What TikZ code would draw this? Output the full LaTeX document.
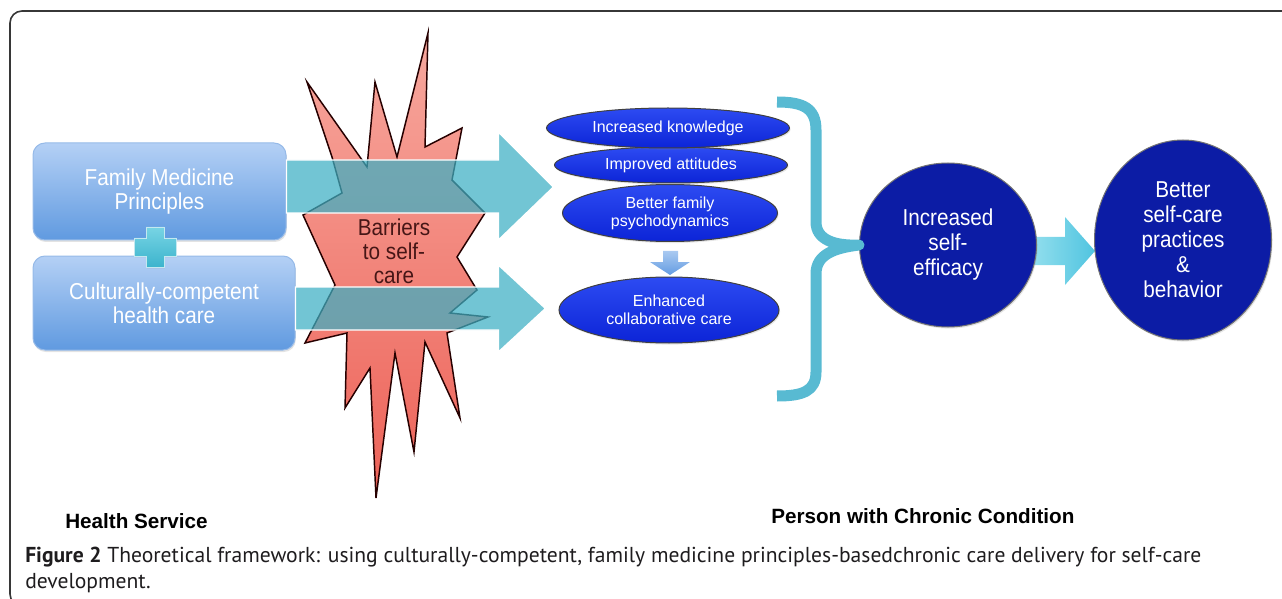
\documentclass[tikz,border=0pt]{standalone}
\usepackage{fontspec}
\usetikzlibrary{shapes.geometric,shadows,calc,backgrounds}
\newfontfamily\dsans[FakeStretch=0.9]{Liberation Sans}
\newfontfamily\esans{Liberation Sans}
\newfontfamily\capfont{PT Sans}
\definecolor{boxtop}{RGB}{180,208,245}
\definecolor{boxbot}{RGB}{96,154,224}
\definecolor{boxedge}{RGB}{150,186,232}
\definecolor{arrteal}{RGB}{60,175,195}
\definecolor{plustop}{RGB}{120,212,228}
\definecolor{plusbot}{RGB}{60,180,205}
\definecolor{startop}{RGB}{247,168,158}
\definecolor{starbot}{RGB}{237,98,88}
\definecolor{barrtext}{RGB}{70,22,22}
\definecolor{elltop}{RGB}{45,75,242}
\definecolor{ellbot}{RGB}{12,36,215}
\definecolor{navyc}{RGB}{12,28,165}
\definecolor{bracec}{RGB}{88,186,210}
\definecolor{smalltop}{RGB}{195,218,246}
\definecolor{smallbot}{RGB}{100,156,226}
\definecolor{rtop}{RGB}{150,224,238}
\definecolor{rbot}{RGB}{80,196,224}
\definecolor{framec}{RGB}{55,55,55}
\definecolor{captext}{RGB}{30,28,30}
\begin{document}
\begin{tikzpicture}[x=0.75pt,y=-0.75pt,
  hbox/.style={rounded corners=9pt, top color=boxtop, bottom color=boxbot,
    draw=boxedge, line width=0.75pt, text=white, align=center, inner sep=0pt,
    font=\dsans\fontsize{17.25}{18}\selectfont,
    drop shadow={opacity=0.22, shadow xshift=0.6pt, shadow yshift=-1.5pt}},
  ell/.style={ellipse, inner sep=0pt, draw=black!75, line width=0.75pt,
    top color=elltop, bottom color=ellbot, text=white, align=center,
    font=\esans\fontsize{12}{13.5}\selectfont,
    drop shadow={opacity=0.2, shadow xshift=0.8pt, shadow yshift=-1.2pt}},
  circ/.style={ellipse, inner sep=0pt, fill=navyc, draw=black!55, line width=0.75pt,
    text=white, align=center, font=\dsans\fontsize{17.25}{18.75}\selectfont,
    drop shadow={opacity=0.2, shadow xshift=0.8pt, shadow yshift=-1.2pt}},
  bigarrow/.style={fill=arrteal, fill opacity=0.72, draw=white, line width=1.1pt},
  starshape/.style={top color=startop, bottom color=starbot, draw=black!85!red, line width=1.1pt, line join=miter},
  brace/.style={draw=bracec, line width=8.25pt, line join=round},
  bottomlabel/.style={anchor=base west, inner sep=0pt, text=black,
    font=\esans\bfseries\fontsize{15.5}{18}\selectfont},
  caption/.style={anchor=base west, inner sep=0pt, text=captext,
    font=\capfont\fontsize{16.2}{18}\selectfont}
]
\useasboundingbox (0,0) rectangle (1282,599);
\clip (0,0) rectangle (1282,599);

% frame
\draw[framec, line width=1.2pt, rounded corners=9pt] (1300,11) -- (10,11) -- (10,606) -- (60,606);

% left boxes
\node[hbox, minimum width=189.75pt, minimum height=72.75pt] (box1) at (159.5,191.5)
  {Family Medicine\\Principles};
\node[hbox, minimum width=196.5pt, minimum height=70.5pt] (box2) at (164,303)
  {Culturally-competent\\health care};

% plus sign
\coordinate (plusc) at (155,247);
\path[top color=plustop, bottom color=plusbot, draw=white!70!plusbot, line width=0.6pt,
  drop shadow={opacity=0.2, shadow xshift=0.6pt, shadow yshift=-1pt}]
  (plusc) ++(-9,-20) -- ++(18,0) -- ++(0,11) -- ++(12,0) -- ++(0,18) -- ++(-12,0)
  -- ++(0,11) -- ++(-18,0) -- ++(0,-11) -- ++(-12,0) -- ++(0,-18) -- ++(12,0) -- cycle;

% explosion star
\path[starshape]
  (307,82) -- (367,167) -- (375,82) -- (397,157) -- (428,33) -- (425,147) -- (462,128)
  -- (452,180) -- (485,213) -- (457,257) -- (477,290) -- (450,313) -- (488,317)
  -- (447,333) -- (460,418) -- (425,342) -- (414,452) -- (395,353) -- (376,498)
  -- (370,368) -- (345,408) -- (347,333) -- (305,343) -- (335,285) -- (303,215)
  -- (342,193) -- (332,157) -- cycle;
\node[font=\dsans\fontsize{17.25}{18}\selectfont, text=barrtext, align=center, inner sep=0pt]
  (barr) at (394,251) {Barriers\\to self-\\care};

% ellipses (lower ones first)
\node[ell, minimum width=165pt, minimum height=49.5pt] (E4) at (669,310)
  {Enhanced\\collaborative care};
\node[ell, minimum width=161.25pt, minimum height=42.75pt] (E3) at (670,213)
  {Better family\\psychodynamics};
\node[ell, minimum width=174.75pt, minimum height=27pt] (E2) at (671,165)
  {Improved attitudes};
\node[ell, minimum width=182.25pt, minimum height=30pt] (E1) at (668,128)
  {Increased knowledge};

% big translucent arrows
\path[bigarrow] (box1.east) ++(0,-4.5) ++(0,-27) -- ++(212,0) -- ++(0,-28) -- ++(55,55)
  -- ++(-55,53) -- ++(0,-27) -- ++(-212,0) -- cycle;
\path[bigarrow] (box2.east) ++(0,5.5) ++(0,-21.5) -- ++(203,0) -- ++(0,-22) -- ++(47,43.5)
  -- ++(-47,43.5) -- ++(0,-22) -- ++(-203,0) -- cycle;

% small down arrow
\path[top color=smalltop, bottom color=smallbot]
  (E3.south) ++(-7,9) -- ++(15,0) -- ++(0,11) -- ++(12,0) -- ++(-20,13) -- ++(-20,-13)
  -- ++(13,0) -- cycle;

% circles
\node[circ, minimum width=132.75pt, minimum height=123pt] (C1) at (948,245)
  {Increased\\self-\\efficacy};
\node[circ, minimum width=132.75pt, minimum height=150pt] (C2) at (1183,240)
  {Better\\self-care\\practices\\\&\\behavior};

% brace
\draw[brace] (777,102) .. controls (803,102) and (816,108) .. (816,130) -- (816,222)
  .. controls (816,240) and (835,246) .. (C1.west)
  .. controls (835,248) and (816,254) .. (816,274) -- (816,372)
  .. controls (816,391) and (803,396) .. (777,396);

% arrow between circles (behind the circles)
\begin{scope}[on background layer]
\path[left color=rtop, right color=rbot]
  (C1.east) ++(-8,-8) -- ++(36,0) -- ++(0,-20) -- ++(30,34) -- ++(-30,34) -- ++(0,-20)
  -- ++(-36,0) -- cycle;
\end{scope}

% bottom labels
\node[bottomlabel] (hs) at (65,528) {Health Service};
\node[bottomlabel] (pc) at (771,523) {Person with Chronic Condition};

% caption
\node[caption] (cap1) at (25,562) {\textbf{Figure 2} Theoretical framework: using culturally-competent, family medicine principles-basedchronic care delivery for self-care};
\node[caption] (cap2) at (25,588) {development.};
\end{tikzpicture}
\end{document}
